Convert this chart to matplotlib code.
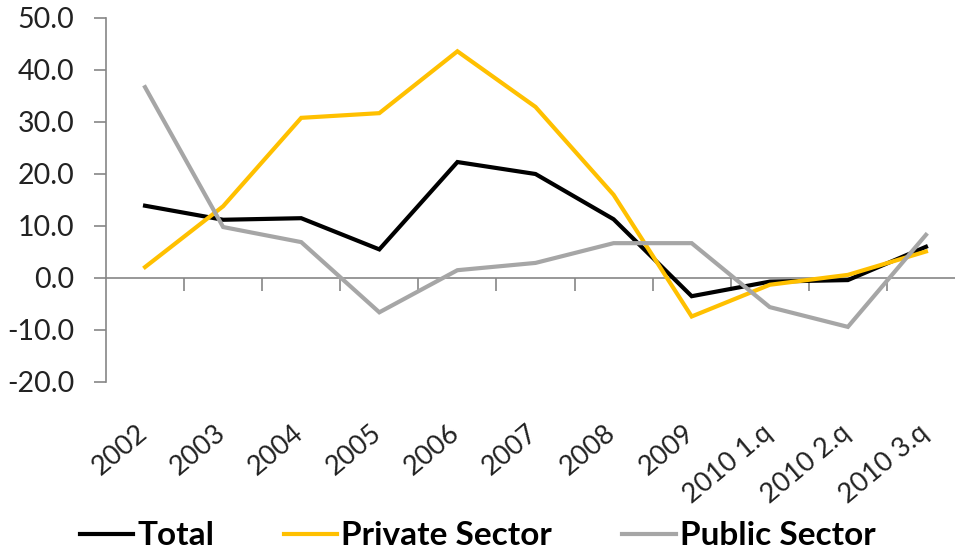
import numpy as np
import matplotlib
matplotlib.use("Agg")
import matplotlib.pyplot as plt
import matplotlib.transforms as mtransforms

# data
categories = ["2002", "2003", "2004", "2005", "2006", "2007", "2008", "2009",
              "2010 1.q", "2010 2.q", "2010 3.q"]
total = [13.9, 11.2, 11.5, 5.5, 22.3, 20.0, 11.3, -3.5, -0.7, -0.4, 6.0]
private_sector = [2.1, 13.8, 30.8, 31.7, 43.6, 32.9, 16.0, -7.4, -1.3, 0.6, 5.1]
public_sector = [36.7, 9.8, 6.9, -6.6, 1.5, 2.9, 6.7, 6.7, -5.6, -9.4, 8.3]
yticks = [-20, -10, 0, 10, 20, 30, 40, 50]

plt.rcParams['font.family'] = ['Lato', 'DejaVu Sans']
axis_col = '#868686'

fig = plt.figure(figsize=(9.55, 5.5), dpi=100)
ax = fig.add_axes([106 / 955, 1 - 382 / 550, (965 - 106) / 955, (382 - 18) / 550])

x = np.arange(len(categories))
ax.plot(x, total, color='black', lw=3, label='Total', solid_joinstyle='miter')
ax.plot(x, private_sector, color='#FFC000', lw=3, label='Private Sector', solid_joinstyle='miter')
ax.plot(x, public_sector, color='#A6A6A6', lw=3, label='Public Sector', solid_joinstyle='miter')

ax.set_xlim(-0.5, len(categories) - 0.5)
ax.set_ylim(-20, 50)
ax.set_yticks(yticks)
ax.set_yticklabels([f"{v:.1f}" for v in yticks], fontsize=20.5, color='#222222')
ax.tick_params(axis='y', length=9, width=1.2, color=axis_col, pad=14)

for s in ['top', 'right', 'bottom']:
    ax.spines[s].set_visible(False)
ax.spines['left'].set_color(axis_col)
ax.spines['left'].set_linewidth(1.2)

# category labels along the bottom of the plot area
ax.set_xticks(x)
ax.set_xticklabels(categories, rotation=40, ha='right', rotation_mode='anchor',
                   fontsize=19.5, color='#222222')
ax.tick_params(axis='x', length=0, pad=6)
offset = mtransforms.ScaledTranslation(-9 / 100, -30 / 100, fig.dpi_scale_trans)
for lab in ax.get_xticklabels():
    lab.set_transform(lab.get_transform() + offset)

# zero line with tick marks between categories
zero_ax = ax.secondary_xaxis(0, transform=ax.transData)
zero_ax.set_xticks(x[:-1] + 0.5)
zero_ax.set_xticklabels([])
zero_ax.tick_params(length=9, width=1.2, color=axis_col)
zero_ax.spines['bottom'].set_color(axis_col)
zero_ax.spines['bottom'].set_linewidth(1.2)

fig.legend(loc='lower center', bbox_to_anchor=(0.5, -0.055), ncol=3, frameon=False,
           prop={'weight': 'bold', 'size': 24}, handlelength=1.6, handletextpad=0.12,
           columnspacing=2.1)

fig.savefig("out.png", dpi=100)
